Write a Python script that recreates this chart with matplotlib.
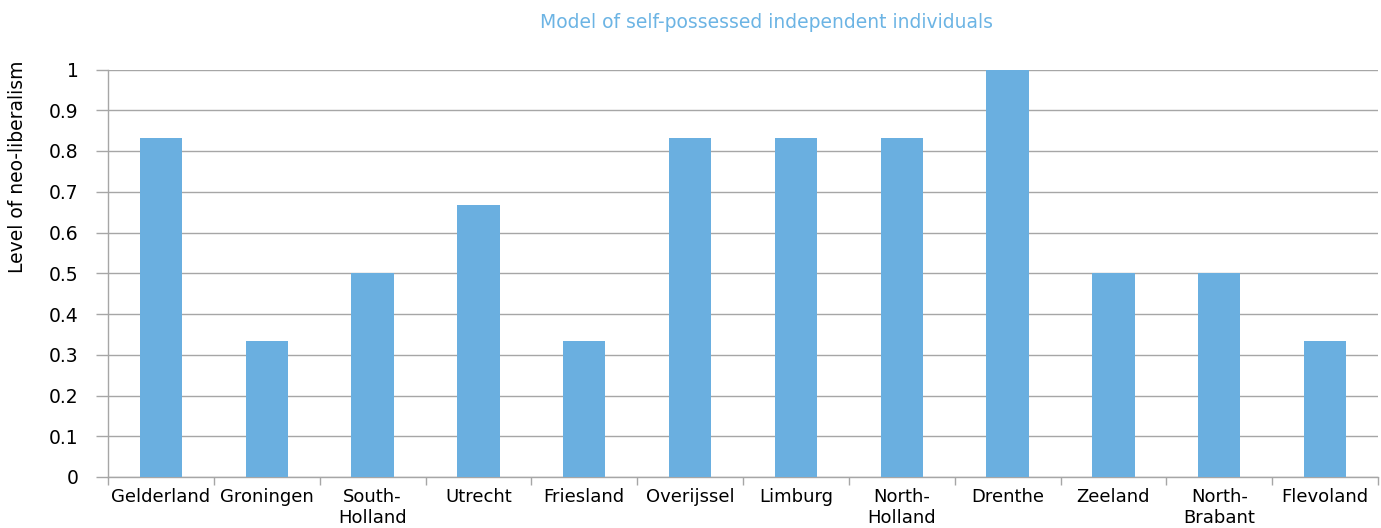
import matplotlib
matplotlib.use('Agg')
import matplotlib.pyplot as plt
import numpy as np

provinces = ['Gelderland', 'Groningen', 'South-\nHolland', 'Utrecht', 'Friesland',
             'Overijssel', 'Limburg', 'North-\nHolland', 'Drenthe', 'Zeeland',
             'North-\nBrabant', 'Flevoland']
levels = [0.833, 0.333, 0.5, 0.667, 0.333, 0.833, 0.833, 0.833, 1.0, 0.5, 0.5, 0.333]
yticks = [0, 0.1, 0.2, 0.3, 0.4, 0.5, 0.6, 0.7, 0.8, 0.9, 1]

plt.rcParams['font.family'] = 'DejaVu Sans'
fs = 13.5

fig = plt.figure(figsize=(13.81, 5.28), dpi=100)
ax = fig.add_axes([108 / 1381, 51 / 528, 1270 / 1381, 407.5 / 528])

x = np.arange(len(provinces))
ax.bar(x, levels, width=0.4, color='#6aafe0', zorder=3)

ax.set_xlim(-0.5, len(provinces) - 0.5)
ax.set_ylim(0, 1)
ax.set_yticks(yticks)
ax.set_yticklabels([f'{v:g}' for v in yticks], fontsize=fs)
ax.yaxis.grid(True, color='#a6a6a6', linewidth=1, zorder=0)

# category labels centred, tick marks at category boundaries
ax.set_xticks(x)
ax.set_xticklabels(provinces, fontsize=13, linespacing=1.2)
ax.tick_params(axis='x', which='major', length=0, pad=8)
ax.set_xticks(np.arange(-0.5, len(provinces)), minor=True)
ax.tick_params(axis='x', which='minor', length=6, color='#a6a6a6', width=1)
ax.tick_params(axis='y', length=9, color='#a6a6a6', width=1, pad=12)

for side in ['top', 'right']:
    ax.spines[side].set_visible(False)
for side in ['left', 'bottom']:
    ax.spines[side].set_color('#a6a6a6')
    ax.spines[side].set_linewidth(1)

fig.text(18 / 1381, 1 - 167 / 528, 'Level of neo-liberalism', rotation=90,
         ha='center', va='center', fontsize=fs)
fig.text(767 / 1381, 1 - 22 / 528, 'Model of self-possessed independent individuals',
         ha='center', va='center', fontsize=fs, color='#6cb4e4')

fig.savefig('out.png', dpi=100, facecolor='white')
